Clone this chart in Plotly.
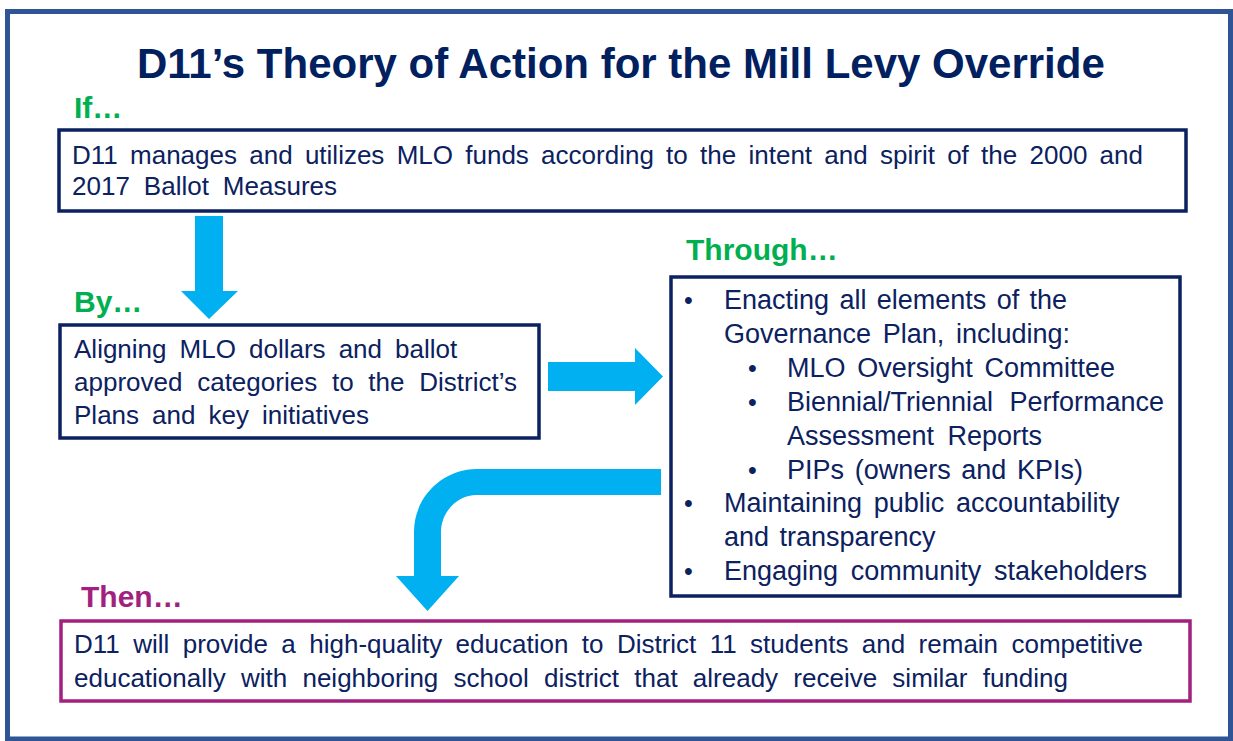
import json

import plotly.graph_objects as go

W, H = 1233, 741

NAVY = "#0B2160"
BORDER = "#2F5597"
ARROW = "#00B0F0"
GREEN = "#00B050"
PURPLE = "#A2217F"
FONT = "Liberation Sans, Arial, sans-serif"

title = "D11’s Theory of Action for the Mill Levy Override"

headings = ["If…", "By…", "Through…", "Then…"]
heading_colors = [GREEN, GREEN, GREEN, PURPLE]
heading_pos = [(73, 107), (73, 301), (685, 249), (80, 596)]

if_lines = [
    "D11 manages and utilizes MLO funds according to the intent and spirit of the 2000 and",
    "2017 Ballot Measures",
]
by_lines = [
    "Aligning MLO dollars and ballot",
    "approved categories to the District’s",
    "Plans and key initiatives",
]
# (bullet level, text): 0 = continuation, 1 = bullet, 2 = sub-bullet, 3 = sub continuation
through_lines = [
    (1, "Enacting all elements of the"),
    (0, "Governance Plan, including:"),
    (2, "MLO Oversight Committee"),
    (2, "Biennial/Triennial Performance"),
    (3, "Assessment Reports"),
    (2, "PIPs (owners and KPIs)"),
    (1, "Maintaining public accountability"),
    (0, "and transparency"),
    (1, "Engaging community stakeholders"),
]
then_lines = [
    "D11 will provide a high-quality education to District 11 students and remain competitive",
    "educationally with neighboring school district that already receive similar funding",
]

# layout: right end of each text line (the slide text is justified / widely spaced)
if_ends = [1143, 337]
by_ends = [458, 517, 369]
through_ends = [1067, 1070, 1115, 1164, 1042, 1083, 1120, 936, 1147]
then_ends = [1143, 1068]

# boxes: x0, y0, x1, y1, colour
boxes = [
    (59, 130, 1186, 211, NAVY),
    (60, 325, 539, 438, NAVY),
    (671, 277, 1180, 596, NAVY),
    (61, 621, 1190, 701, PURPLE),
]

fig = go.Figure()

# outer frame
fig.add_shape(type="rect", x0=7.5, y0=11.5, x1=1230.5, y1=739, line=dict(color=BORDER, width=5))

for x0, y0, x1, y1, c in boxes:
    fig.add_shape(type="rect", x0=x0, y0=y0, x1=x1, y1=y1, line=dict(color=c, width=3.5),
                  fillcolor="white")

# arrows
down_arrow = "M195,216 L223,216 L223,291 L238,291 L209,319 L181,291 L195,291 Z"
right_arrow = "M548,362 L635,362 L635,348 L663,376.5 L635,405 L635,391 L548,391 Z"
k = 0.5523
bend_arrow = (
    f"M661,469 L477,469 C{477 - 63 * k},469 414,{532 - 63 * k} 414,532 "
    "L414,576 L396,576 L427.5,611 L459,576 L441,576 L441,532 "
    f"C441,{532 - 36 * k} {477 - 36 * k},495 477,495 L661,495 Z"
)
for p in (down_arrow, right_arrow, bend_arrow):
    fig.add_shape(type="path", path=p, fillcolor=ARROW, line=dict(width=0))

justify = {}


def txt(x, y, s, size, color=NAVY, bold=False, xanchor="left", end=None):
    if bold:
        s = f"<b>{s}</b>"
    fig.add_annotation(x=x, y=y, text=s, showarrow=False, xanchor=xanchor, yanchor="middle",
                       borderpad=0, font=dict(family=FONT, size=size, color=color))
    if end is not None:
        justify[len(fig.layout.annotations) - 1] = end


txt(620.5, 63, title, 42, color="#002060", bold=True, xanchor="center")

for h, c, (x, y) in zip(headings, heading_colors, heading_pos):
    txt(x, y, h, 30, color=c, bold=True)

for i, (s, e) in enumerate(zip(if_lines, if_ends)):
    txt(71, 155 + i * 31, s, 26, end=e)
for i, (s, e) in enumerate(zip(by_lines, by_ends)):
    txt(73, 349 + i * 33, s, 26, end=e)
for i, ((lvl, s), e) in enumerate(zip(through_lines, through_ends)):
    y = 300 + i * 33.9
    if lvl == 1:
        txt(683, y, "•", 25)
    if lvl == 2:
        txt(747, y, "•", 25)
    x = 723 if lvl in (0, 1) else 786
    txt(x, y, s, 27, end=e)
for i, (s, e) in enumerate(zip(then_lines, then_ends)):
    txt(73, 644 + i * 34, s, 26, end=e)

fig.update_layout(
    width=W,
    height=H,
    margin=dict(l=0, r=0, t=0, b=0),
    paper_bgcolor="white",
    plot_bgcolor="white",
    showlegend=False,
)
fig.update_xaxes(range=[0, W], visible=False, fixedrange=True)
fig.update_yaxes(range=[H, 0], visible=False, fixedrange=True)

# spread the words of each line out to its right end, like the justified slide text,
# keeping the left edge where it was
post = """
document.body.style.margin = '0';
var gd = document.getElementById('{plot_id}');
var ends = %s;
var x0 = gd.getBoundingClientRect().left;
gd.querySelectorAll('g.annotation').forEach(function (g) {
    var i = g.getAttribute('data-index');
    if (!(i in ends)) return;
    var t = g.querySelector('text.annotation-text');
    var n = (t.textContent.match(/ /g) || []).length;
    if (!n) return;
    var r0 = t.getBoundingClientRect();
    t.style.wordSpacing = ((ends[i] - (r0.right - x0)) / n) + 'px';
    var r1 = t.getBoundingClientRect();
    var tr = t.getAttribute('transform') || '';
    t.setAttribute('transform', tr + ' translate(' + (r0.left - r1.left) + ',0)');
});
""" % json.dumps(justify)

fig.write_html("out.html", post_script=post, config={"displayModeBar": False, "staticPlot": True})
